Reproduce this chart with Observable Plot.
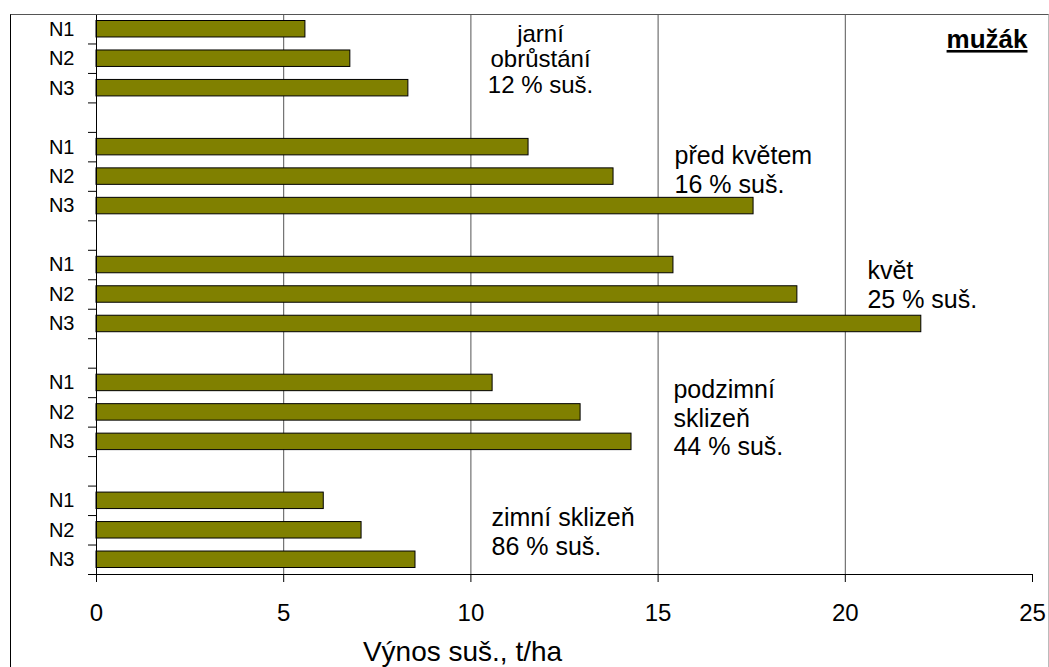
<!DOCTYPE html>
<html>
<head>
<meta charset="utf-8">
<script src="https://cdn.jsdelivr.net/npm/d3@7"></script>
<script src="https://cdn.jsdelivr.net/npm/@observablehq/plot@0.6"></script>
<style>
  html, body { margin: 0; padding: 0; background: #fff; }
  #wrap { position: relative; width: 1049px; height: 667px; overflow: hidden; }
  #frame { position: absolute; left: 10px; top: 14px; width: 1039px; height: 700px;
           box-sizing: border-box; border-left: 1px solid #000; border-top: 1px solid #555;
           border-right: 1px solid #bbb; pointer-events: none; }
</style>
</head>
<body>
<div id="wrap"><div id="chart"></div><div id="frame"></div></div>
<script>
// ---- data ----
const groups = ["jarní obrůstání", "před květem", "květ", "podzimní sklizeň", "zimní sklizeň"];
const levels = ["N1", "N2", "N3"];
const yields = [
  [5.58, 6.78, 8.33],
  [11.54, 13.81, 17.55],
  [15.41, 18.72, 22.03],
  [10.58, 12.93, 14.29],
  [6.07, 7.08, 8.52]
];
const annotTexts = [
  "jarní\nobrůstání\n12 % suš.",
  "před květem\n16 % suš.",
  "květ\n25 % suš.",
  "podzimní\nsklizeň\n44 % suš.",
  "zimní sklizeň\n86 % suš."
];
const xTicks = [0, 5, 10, 15, 20, 25];
const gridValues = [5, 10, 15, 20];
const xTitle = "Výnos suš., t/ha";
const cornerLabel = "mužák";

// annotation anchors in data units (x) and category slots (y)
const annotX = [11.86, 15.44, 20.59, 15.41, 10.55];
const annotSlot = [0.32, 4.39, 8.29, 12.33, 16.67];

// ---- derived table ----
const slotsPerGroup = levels.length + 1;
const nSlots = groups.length * slotsPerGroup - 1;
const rows = [];
groups.forEach((g, gi) => levels.forEach((l, li) => {
  rows.push({group: g, level: l, value: yields[gi][li], slot: gi * slotsPerGroup + li});
}));
const labelMap = new Map(rows.map(r => [r.slot + 0.5, r.level]));
const annots = annotTexts.map((t, i) => ({text: t, x: annotX[i], y: annotSlot[i]}));

const font = "'Liberation Sans', Arial, sans-serif";

const chart = Plot.plot({
  width: 1049,
  height: 667,
  marginLeft: 96,
  marginRight: 17,
  marginTop: 14,
  marginBottom: 93,
  style: {fontFamily: font, background: "#fff", color: "#000"},
  x: {domain: [0, 25], label: null},
  y: {domain: [0, nSlots], reverse: true, label: null},
  marks: [
    Plot.ruleX(gridValues, {stroke: "#555", strokeWidth: 1}),
    Plot.rect(rows, {x1: 0, x2: "value", y1: "slot", y2: d => d.slot + 1,
      insetTop: 6.5, insetBottom: 6.5, fill: "#808000", stroke: "#000", strokeWidth: 1}),
    Plot.ruleX([0], {stroke: "#000"}),
    Plot.ruleY([nSlots], {stroke: "#000"}),
    Plot.axisY(d3.range(0, nSlots + 1), {tickSize: 8, tickFormat: () => "", label: null}),
    Plot.axisY([...labelMap.keys()], {tickSize: 0, tickPadding: 22, fontSize: 20,
      tickFormat: v => labelMap.get(v), label: null}),
    Plot.axisX(xTicks, {tickSize: 8, tickPadding: 21, fontSize: 24, label: null}),
    Plot.text(annots.slice(0, 1), {x: "x", y: "y", text: "text", textAnchor: "middle",
      lineAnchor: "top", lineHeight: 1.06, fontSize: 24, fill: "#000"}),
    Plot.text(annots.slice(1), {x: "x", y: "y", text: "text", textAnchor: "start",
      lineAnchor: "top", lineHeight: 1.14, fontSize: 25, fill: "#000"}),
    Plot.text([xTitle], {frameAnchor: "bottom", dx: -102, dy: 86, lineAnchor: "bottom",
      fontSize: 28, fill: "#000"}),
    Plot.text([cornerLabel], {frameAnchor: "top-right", dx: -5, dy: 15, lineAnchor: "top",
      textAnchor: "end", fontSize: 26, fontWeight: "bold", fill: "#000"})
  ]
});
d3.select(chart).selectAll("text")
  .filter(function() { return this.textContent === cornerLabel; })
  .attr("text-decoration", "underline")
  .style("text-decoration", "underline");
document.getElementById("chart").appendChild(chart);
</script>
</body>
</html>
